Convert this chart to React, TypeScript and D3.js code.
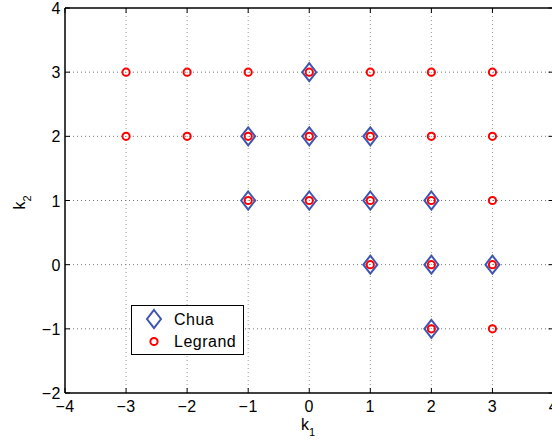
import React from "react";
import * as d3 from "d3";

const xTicks = [-4, -3, -2, -1, 0, 1, 2, 3, 4];
const yTicks = [-2, -1, 0, 1, 2, 3, 4];
const chuaX = [0, -1, 0, 1, -1, 0, 1, 2, 1, 2, 3, 2];
const chuaY = [3, 2, 2, 2, 1, 1, 1, 1, 0, 0, 0, -1];
const legrandX = [-3, -2, -1, 0, 1, 2, 3, -3, -2, -1, 0, 1, 2, 3, -1, 0, 1, 2, 3, 1, 2, 3, 2, 3];
const legrandY = [3, 3, 3, 3, 3, 3, 3, 2, 2, 2, 2, 2, 2, 2, 1, 1, 1, 1, 1, 0, 0, 0, -1, -1];

const W = 552, H = 443;
const L = 65, T = 8, R = 553.5, B = 393;
const font = "'Liberation Sans', Arial, Helvetica, sans-serif";
const fs = 16;
const ls = 0.5;
const blue = "#4054b2";
const red = "#ff0000";

const fmt = (v: number) => (v < 0 ? "\u2212" + Math.abs(v) : String(v));

const diamond = (cx: number, cy: number, hw = 7, hh = 9) =>
  `M${cx},${cy - hh}L${cx + hw},${cy}L${cx},${cy + hh}L${cx - hw},${cy}Z`;

export default function App() {
  const x = d3.scaleLinear().domain([-4, 4]).range([L, R]);
  const y = d3.scaleLinear().domain([-2, 4]).range([B, T]);
  return (
    <svg width={W} height={H} style={{ position: "absolute", left: 0, top: 0, background: "#fff" }}>
      <rect x={0} y={0} width={W} height={H} fill="#fff" />
      {/* grid */}
      {xTicks.slice(1, -1).map((t) => (
        <line key={"gx" + t} x1={x(t)} x2={x(t)} y1={T} y2={B} stroke="#999" strokeWidth={1} strokeDasharray="1,3" />
      ))}
      {yTicks.slice(1, -1).map((t) => (
        <line key={"gy" + t} x1={L} x2={R} y1={y(t)} y2={y(t)} stroke="#777" strokeWidth={1} strokeDasharray="1,3" />
      ))}
      {/* axes box */}
      <line x1={L} x2={R} y1={T} y2={T} stroke="#000" strokeWidth={1.5} />
      <line x1={L} x2={R} y1={B} y2={B} stroke="#000" strokeWidth={1.5} />
      <line x1={L} x2={L} y1={T} y2={B} stroke="#000" strokeWidth={1.5} />
      <line x1={R} x2={R} y1={T} y2={B} stroke="#000" strokeWidth={1.5} />
      {/* ticks */}
      {xTicks.map((t) => (
        <g key={"tx" + t}>
          <line x1={x(t)} x2={x(t)} y1={B} y2={B - 5} stroke="#000" />
          <line x1={x(t)} x2={x(t)} y1={T} y2={T + 5} stroke="#000" />
          <text x={x(t)} y={B + 19} textAnchor="middle" fontFamily={font} fontSize={fs} letterSpacing={ls} fill="#000">
            {fmt(t)}
          </text>
        </g>
      ))}
      {yTicks.map((t) => (
        <g key={"ty" + t}>
          <line x1={L} x2={L + 5} y1={y(t)} y2={y(t)} stroke="#000" />
          <line x1={R} x2={R - 5} y1={y(t)} y2={y(t)} stroke="#000" />
          <text x={L - 4} y={y(t) + 6} textAnchor="end" fontFamily={font} fontSize={fs} letterSpacing={ls} fill="#000">
            {fmt(t)}
          </text>
        </g>
      ))}
      {/* axis labels */}
      <text x={301} y={430} fontFamily={font} fontSize={fs} fill="#000">
        k<tspan fontSize={11} dy={6}>1</tspan>
      </text>
      <text transform={`translate(25,${(T + B) / 2 + 9}) rotate(-90)`} fontFamily={font} fontSize={fs} fill="#000">
        k<tspan fontSize={11} dy={6}>2</tspan>
      </text>
      {/* data */}
      {chuaX.map((v, i) => (
        <path key={"c" + i} d={diamond(x(v), y(chuaY[i]))} fill="none" stroke={blue} strokeWidth={2} />
      ))}
      {legrandX.map((v, i) => (
        <circle key={"l" + i} cx={x(v)} cy={y(legrandY[i])} r={3.6} fill="none" stroke={red} strokeWidth={2} />
      ))}
      {/* legend */}
      <rect x={131.5} y={305.5} width={112} height={49} fill="#fff" stroke="#000" strokeWidth={1} />
      <path d={diamond(154, 319)} fill="none" stroke={blue} strokeWidth={2} />
      <text x={174} y={325} fontFamily={font} fontSize={fs} letterSpacing={ls} fill="#000">Chua</text>
      <circle cx={154} cy={341.5} r={3.6} fill="none" stroke={red} strokeWidth={2} />
      <text x={174} y={347} fontFamily={font} fontSize={fs} letterSpacing={ls} fill="#000">Legrand</text>
    </svg>
  );
}
